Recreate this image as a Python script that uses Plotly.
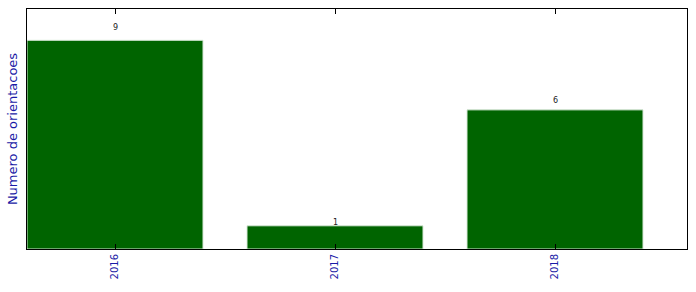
import plotly.graph_objects as go

categories = ["2016", "2017", "2018"]
values = [9, 1, 6]

xpos = list(range(len(categories)))

fig = go.Figure()
fig.add_trace(go.Bar(
    x=xpos, y=values, width=0.8,
    marker=dict(color="#006400", line=dict(color="#d8e8d8", width=1)),
    hoverinfo="skip",
))

for xi, v in zip(xpos, values):
    fig.add_annotation(x=xi, y=v * 1.05, text=str(v), showarrow=False,
                       yanchor="bottom", yshift=-4,
                       font=dict(family="DejaVu Sans", size=8, color="#222222"))

fig.update_layout(
    width=696, height=292,
    margin=dict(l=27, r=9, t=9, b=43),
    plot_bgcolor="white", paper_bgcolor="white",
    showlegend=False,
    font=dict(family="DejaVu Sans"),
    xaxis=dict(
        range=[-0.4, 2.6],
        tickmode="array", tickvals=xpos, ticktext=categories,
        tickangle=-90, ticks="inside", ticklen=5, tickcolor="black",
        showline=True, linecolor="black", linewidth=1, mirror="ticks",
        showgrid=False, zeroline=False,
        tickfont=dict(family="DejaVu Sans", size=10, color="#1a1aa6"),
    ),
    yaxis=dict(
        range=[0, 10.35],
        showticklabels=False, ticks="",
        showline=True, linecolor="black", linewidth=1, mirror=True,
        showgrid=False, zeroline=False,
        title=dict(text="Numero de orientacoes", standoff=5,
                   font=dict(family="DejaVu Sans", size=13, color="#1a1aa6")),
    ),
)

fig.write_html("out.html")
